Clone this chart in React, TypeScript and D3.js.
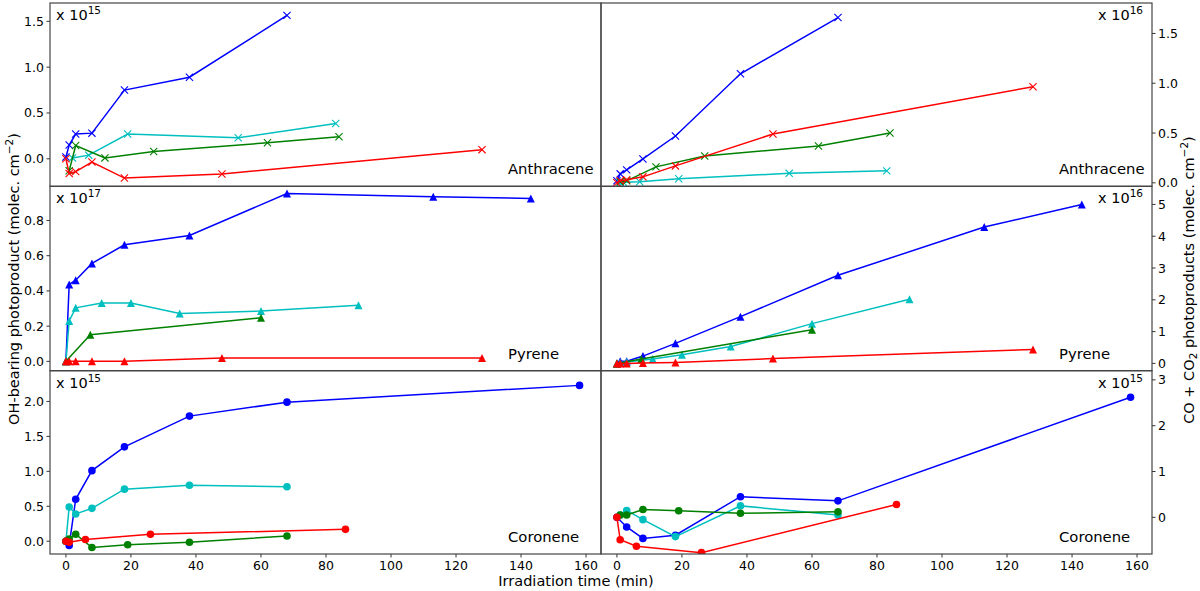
import React, { useEffect, useRef } from "react";
import * as d3 from "d3";

type Pt = [number, number];

// Anthracene, OH-bearing photoproduct (x 1e15)
const anthOhBlue: Pt[] = [[0, 0.02], [1, 0.15], [3, 0.27], [8, 0.28], [18, 0.75], [38, 0.89], [68, 1.565]];
const anthOhCyan: Pt[] = [[2, 0.01], [7, 0.04], [19, 0.27], [53, 0.23], [83, 0.385]];
const anthOhGreen: Pt[] = [[1, -0.13], [3, 0.145], [12, 0.01], [27, 0.08], [62, 0.175], [84, 0.24]];
const anthOhRed: Pt[] = [[0, 0], [1, -0.16], [3, -0.14], [8, -0.035], [18, -0.21], [48, -0.165], [128, 0.1]];

// Anthracene, CO + CO2 (x 1e16)
const anthCoBlue: Pt[] = [[0, 0.02], [1, 0.09], [3, 0.13], [8, 0.24], [18, 0.47], [38, 1.095], [68, 1.66]];
const anthCoCyan: Pt[] = [[1, 0.0], [2, 0.005], [7, 0.01], [19, 0.04], [53, 0.095], [83, 0.12]];
const anthCoGreen: Pt[] = [[1, 0.01], [3, 0.02], [12, 0.16], [27, 0.27], [62, 0.37], [84, 0.5]];
const anthCoRed: Pt[] = [[0, 0], [1, 0.02], [3, 0.03], [8, 0.06], [18, 0.17], [48, 0.49], [128, 0.965]];

// Pyrene, OH-bearing (x 1e17)
const pyrOhBlue: Pt[] = [[0, 0], [1, 0.437], [3, 0.461], [8, 0.556], [18, 0.662], [38, 0.715], [68, 0.953], [113, 0.934], [143, 0.925]];
const pyrOhCyan: Pt[] = [[0, 0], [1, 0.229], [3, 0.304], [11, 0.331], [20, 0.331], [35, 0.272], [60, 0.286], [90, 0.318]];
const pyrOhGreen: Pt[] = [[0, 0], [7.5, 0.151], [60, 0.248]];
const pyrOhRed: Pt[] = [[0, 0], [1, 0], [3, 0], [8, 0], [18, 0], [48, 0.019], [128, 0.019]];

// Pyrene, CO + CO2 (x 1e16)
const pyrCoBlue: Pt[] = [[0, 0], [1, 0.07], [3, 0.07], [8, 0.23], [18, 0.63], [38, 1.47], [68, 2.77], [113, 4.29], [143, 5.0]];
const pyrCoCyan: Pt[] = [[0, 0], [1, 0.02], [3, 0.04], [11, 0.14], [20, 0.27], [35, 0.53], [60, 1.25], [90, 2.02]];
const pyrCoGreen: Pt[] = [[0, 0], [7.5, 0.14], [60, 1.06]];
const pyrCoRed: Pt[] = [[0, 0], [1, 0], [3, 0], [8, 0.01], [18, 0.03], [48, 0.15], [128, 0.44]];

// Coronene, OH-bearing (x 1e15)
const corOhBlue: Pt[] = [[0, 0], [1, -0.06], [3, 0.6], [8, 1.01], [18, 1.35], [38, 1.79], [68, 1.99], [158, 2.23]];
const corOhCyan: Pt[] = [[0, 0], [1, 0.49], [3, 0.39], [8, 0.47], [18, 0.745], [38, 0.8], [68, 0.78]];
const corOhGreen: Pt[] = [[0, 0], [1, 0.03], [3, 0.1], [8, -0.09], [19, -0.05], [38, -0.015], [68, 0.075]];
const corOhRed: Pt[] = [[0, 0], [1, -0.015], [6, 0.025], [26, 0.1], [86, 0.17]];

// Coronene, CO + CO2 (x 1e15)
const corCoBlue: Pt[] = [[0, 0], [3, -0.21], [8, -0.46], [18, -0.39], [38, 0.45], [68, 0.36], [158, 2.62]];
const corCoCyan: Pt[] = [[1, 0.05], [3, 0.15], [8, -0.05], [18, -0.42], [38, 0.25], [68, 0.05]];
const corCoGreen: Pt[] = [[1, 0.05], [3, 0.05], [8, 0.17], [19, 0.145], [38, 0.09], [68, 0.12]];
const corCoRed: Pt[] = [[0, 0], [1, -0.49], [6, -0.63], [26, -0.77], [86, 0.28]];

const molecules = ["Anthracene", "Pyrene", "Coronene"];
const colors = ["#0000ff", "#00bfbf", "#008000", "#ff0000"];
const xTicks = [0, 20, 40, 60, 80, 100, 120, 140, 160];

const W = 1200;
const H = 591;
const cols = [[50, 601], [601, 1152]];
const rows = [[3, 186.3], [186.3, 370.7], [370.7, 554]];
const FONT = "DejaVu Sans, sans-serif";

const panels = [
  { r: 0, c: 0, yd: [-0.3, 1.7], ticks: [0, 0.5, 1, 1.5], fmt: ".1f", exp: "15", series: [anthOhBlue, anthOhCyan, anthOhGreen, anthOhRed], marker: "x" },
  { r: 0, c: 1, yd: [-0.035, 1.806], ticks: [0, 0.5, 1, 1.5], fmt: ".1f", exp: "16", series: [anthCoBlue, anthCoCyan, anthCoGreen, anthCoRed], marker: "x" },
  { r: 1, c: 0, yd: [-0.053, 0.994], ticks: [0, 0.2, 0.4, 0.6, 0.8], fmt: ".1f", exp: "17", series: [pyrOhBlue, pyrOhCyan, pyrOhGreen, pyrOhRed], marker: "^" },
  { r: 1, c: 1, yd: [-0.23, 5.57], ticks: [0, 1, 2, 3, 4, 5], fmt: "d", exp: "16", series: [pyrCoBlue, pyrCoCyan, pyrCoGreen, pyrCoRed], marker: "^" },
  { r: 2, c: 0, yd: [-0.183, 2.44], ticks: [0, 0.5, 1, 1.5, 2], fmt: ".1f", exp: "15", series: [corOhBlue, corOhCyan, corOhGreen, corOhRed], marker: "o" },
  { r: 2, c: 1, yd: [-0.8, 3.2], ticks: [0, 1, 2, 3], fmt: "d", exp: "15", series: [corCoBlue, corCoCyan, corCoGreen, corCoRed], marker: "o" },
];

const App: React.FC = () => {
  const svgRef = useRef<SVGSVGElement | null>(null);

  useEffect(() => {
    const svg = d3.select(svgRef.current);
    svg.selectAll("*").remove();
    svg.attr("width", W).attr("height", H).style("background", "#fff").style("display", "block");

    const defs = svg.append("defs");

    panels.forEach((p, i) => {
      const [x0, x1] = cols[p.c];
      const [y0, y1] = rows[p.r];
      const x = d3.scaleLinear().domain([-4.9, 164.6]).range([x0, x1]);
      const y = d3.scaleLinear().domain(p.yd).range([y1, y0]);

      defs.append("clipPath").attr("id", "clip" + i)
        .append("rect").attr("x", x0).attr("y", y0).attr("width", x1 - x0).attr("height", y1 - y0);

      const g = svg.append("g");
      const plot = g.append("g").attr("clip-path", `url(#clip${i})`);

      const line = d3.line<Pt>().x((d) => x(d[0])).y((d) => y(d[1]));

      p.series.forEach((s, k) => {
        plot.append("path").attr("d", line(s)).attr("fill", "none")
          .attr("stroke", colors[k]).attr("stroke-width", 1.5);
        const m = plot.append("g").selectAll("g").data(s).join("g")
          .attr("transform", (d) => `translate(${x(d[0])},${y(d[1])})`);
        if (p.marker === "x") {
          m.append("path").attr("d", "M-3.6,-3.6L3.6,3.6M-3.6,3.6L3.6,-3.6")
            .attr("stroke", colors[k]).attr("stroke-width", 1.1).attr("fill", "none");
        } else if (p.marker === "^") {
          m.append("path").attr("d", "M0,-4L4,4L-4,4Z").attr("fill", colors[k]);
        } else {
          m.append("circle").attr("r", 3.8).attr("fill", colors[k]);
        }
      });

      // y axis ticks
      const fmt = d3.format(p.fmt);
      const left = p.c === 0;
      const ax = left ? x0 : x1;
      const yt = g.append("g");
      p.ticks.forEach((t) => {
        const yy = y(t);
        yt.append("line").attr("x1", ax).attr("x2", left ? ax - 3.5 : ax + 3.5)
          .attr("y1", yy).attr("y2", yy).attr("stroke", "#333").attr("stroke-width", 1);
        yt.append("text").attr("x", left ? ax - 6 : ax + 6).attr("y", yy)
          .attr("dy", "0.36em").attr("text-anchor", left ? "end" : "start")
          .attr("font-family", FONT).attr("font-size", 12.5).attr("fill", "#000")
          .text(fmt(t));
      });

      // x axis on bottom row
      if (p.r === 2) {
        xTicks.forEach((t) => {
          const xx = x(t);
          g.append("line").attr("x1", xx).attr("x2", xx).attr("y1", y1).attr("y2", y1 + 3.5)
            .attr("stroke", "#333").attr("stroke-width", 1);
          g.append("text").attr("x", xx).attr("y", y1 + 15.5).attr("text-anchor", "middle")
            .attr("font-family", FONT).attr("font-size", 12.5).text(String(t));
        });
      }

      // frame
      g.append("rect").attr("x", x0).attr("y", y0).attr("width", x1 - x0).attr("height", y1 - y0)
        .attr("fill", "none").attr("stroke", "#444").attr("stroke-width", 1.2);

      // exponent note
      const et = g.append("text").attr("font-family", FONT).attr("font-size", 14.5)
        .attr("y", y0 + 17);
      if (left) et.attr("x", x0 + 6).attr("text-anchor", "start");
      else et.attr("x", x1 - 9).attr("text-anchor", "end");
      et.append("tspan").text("x 10");
      et.append("tspan").attr("dy", -6).attr("font-size", 10.5).text(p.exp);

      // molecule name
      g.append("text").attr("x", left ? 508 : 1059).attr("y", y1 - 12)
        .attr("font-family", FONT).attr("font-size", 14.8).text(molecules[p.r]);
    });

    // axis titles
    const lt = svg.append("text").attr("font-family", FONT).attr("font-size", 14.5)
      .attr("text-anchor", "middle").attr("transform", "translate(19,279) rotate(-90)");
    lt.append("tspan").text("OH-bearing photoproduct (molec. cm");
    lt.append("tspan").attr("dy", -6).attr("font-size", 10.5).text("\u22122");
    lt.append("tspan").attr("dy", 6).text(")");

    const rt = svg.append("text").attr("font-family", FONT).attr("font-size", 14.5)
      .attr("text-anchor", "middle").attr("transform", "translate(1194,280) rotate(-90)");
    rt.append("tspan").text("CO + CO");
    rt.append("tspan").attr("dy", 3).attr("font-size", 10.5).text("2");
    rt.append("tspan").attr("dy", -3).text(" photoproducts (molec. cm");
    rt.append("tspan").attr("dy", -6).attr("font-size", 10.5).text("\u22122");
    rt.append("tspan").attr("dy", 6).text(")");

    svg.append("text").attr("x", 576).attr("y", 586).attr("text-anchor", "middle")
      .attr("font-family", FONT).attr("font-size", 14.5).text("Irradiation time (min)");
  }, []);

  return (
    <div style={{ position: "absolute", left: 0, top: 0, width: W, height: H }}>
      <svg ref={svgRef}></svg>
    </div>
  );
};

export default App;
